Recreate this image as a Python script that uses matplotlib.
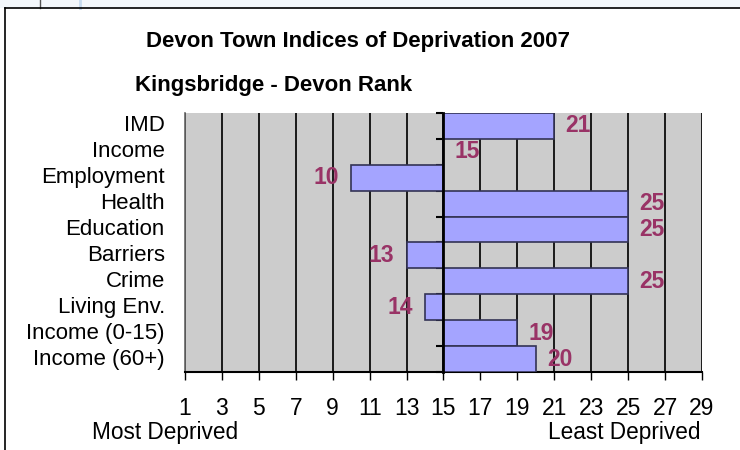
import numpy as np
import matplotlib.pyplot as plt
from matplotlib.transforms import blended_transform_factory

plt.rcParams['font.family'] = ['Liberation Sans', 'DejaVu Sans']

categories = ['IMD', 'Income', 'Employment', 'Health', 'Education',
              'Barriers', 'Crime', 'Living Env.', 'Income (0-15)', 'Income (60+)']
ranks = [21, 15, 10, 25, 25, 13, 25, 14, 19, 20]
base_rank = 15
x_ticks = list(range(1, 30, 2))

fig = plt.figure(figsize=(7.4, 4.5), dpi=100)
fig.patch.set_facecolor('white')

# window strip at the top
fig.add_artist(plt.Rectangle((0, 0.982), 1, 0.018, transform=fig.transFigure,
                             facecolor='#f3f7fb', edgecolor='none'))
fig.add_artist(plt.Line2D([0.054, 0.054], [0.982, 1], transform=fig.transFigure, color='#555', lw=1))
fig.add_artist(plt.Line2D([0.108, 0.108], [0.982, 1], transform=fig.transFigure, color='#c8dcf0', lw=2))
fig.add_artist(plt.Line2D([0.007, 1], [0.982, 0.982], transform=fig.transFigure, color='black', lw=1.2))
fig.add_artist(plt.Line2D([0.007, 0.007], [0, 0.982], transform=fig.transFigure, color='black', lw=1.2))

ax = fig.add_axes([0.25, 0.1733, 0.6986, 0.5757])
ax.set_facecolor('#cccccc')

y = np.arange(len(categories))
diffs = np.array(ranks) - base_rank
ax.barh(y, diffs, left=base_rank, height=1.0, color='#a4a4ff',
        edgecolor='#333355', linewidth=1.2, zorder=3)

for i, r in enumerate(ranks):
    if r >= base_rank:
        ax.annotate(str(r), (r, i), xytext=(8, 0),
                    textcoords='offset points', ha='left', va='center',
                    color='#993366', fontsize=16.5, fontweight='bold', zorder=4)
    else:
        ax.annotate(str(r), (r, i), xytext=(-9, 0), textcoords='offset points',
                    ha='right', va='center', color='#993366', fontsize=16.5,
                    fontweight='bold', zorder=4)

ax.set_xlim(1, 29)
ax.set_ylim(len(categories) - 0.5, -0.5)
for v in x_ticks:
    ax.axvline(v, color='#1a1a1a', lw=1.4, zorder=1)

ax.set_xticks(x_ticks)
ax.tick_params(axis='x', direction='out', length=6, width=1, pad=12, labelsize=16.5)

ax.spines['left'].set_position(('data', base_rank))
ax.spines['left'].set_linewidth(2)
ax.spines['left'].set_zorder(5)
ax.set_yticks(np.arange(len(categories) + 1) - 0.5)
ax.set_yticklabels([])
ax.tick_params(axis='y', direction='out', length=5, width=1.5)
ax.spines['bottom'].set_linewidth(1.5)
ax.spines['top'].set_visible(False)
ax.spines['right'].set_visible(False)

trans = blended_transform_factory(ax.transAxes, ax.transData)
for i, c in enumerate(categories):
    ax.text(-0.039, i, c, transform=trans, ha='right', va='center', fontsize=16)
ax.plot([0, 0], [0, 1], transform=ax.transAxes, color='#666', lw=1.2, clip_on=False)

fig.text(0.484, 0.907, 'Devon Town Indices of Deprivation 2007', ha='center', va='center',
         fontsize=16, fontweight='bold')
fig.text(0.182, 0.811, 'Kingsbridge - Devon Rank', ha='left', va='center',
         fontsize=16, fontweight='bold')
fig.text(0.223, 0.04, 'Most Deprived', ha='center', va='center', fontsize=16.3)
fig.text(0.946, 0.04, 'Least Deprived', ha='right', va='center', fontsize=16.3)

fig.savefig('out.png', dpi=100)
